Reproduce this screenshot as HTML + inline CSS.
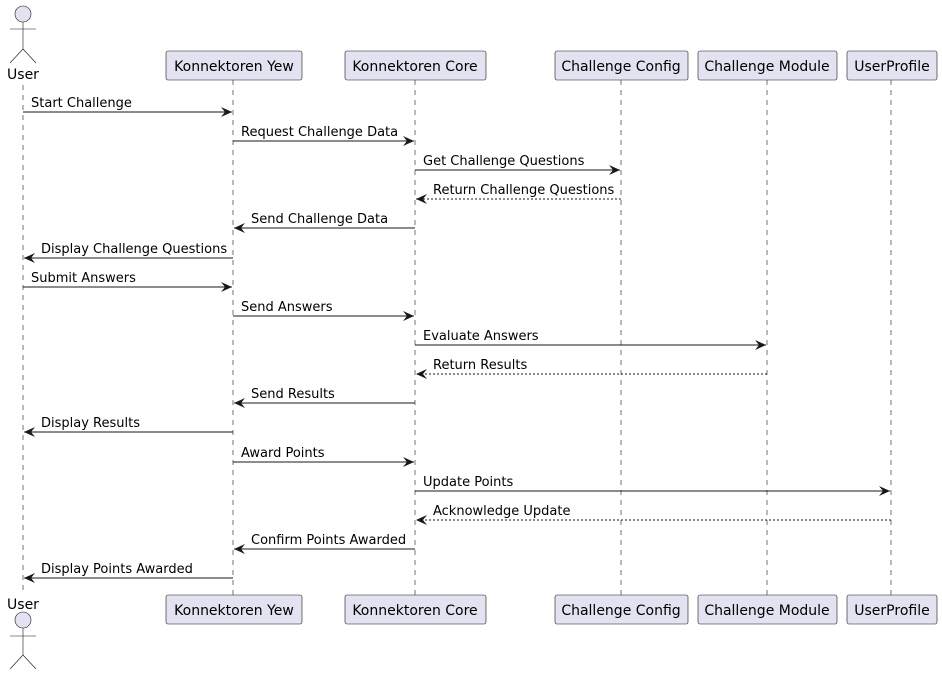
<!DOCTYPE html>
<html><head><meta charset="utf-8"><style>body{margin:0;background:#fff}svg{display:block}</style></head><body>
<svg width="942" height="676" xmlns="http://www.w3.org/2000/svg" font-family="DejaVu Sans, Liberation Sans, sans-serif" font-size="13">
<defs><marker id="a" markerWidth="12" markerHeight="10" refX="11" refY="5" orient="auto" markerUnits="userSpaceOnUse"><path d="M0,0 L11,5 L0,10 L4,5 Z" fill="#181818"/></marker></defs>
<g stroke="#181818" stroke-width="0.6" stroke-dasharray="5,5">
<line x1="23" y1="85" x2="23" y2="595"/><line x1="233" y1="80" x2="233" y2="595"/><line x1="415" y1="80" x2="415" y2="595"/><line x1="621" y1="80" x2="621" y2="595"/><line x1="767" y1="80" x2="767" y2="595"/><line x1="891" y1="80" x2="891" y2="595"/>
</g>
<g fill="#E2E2F0" stroke="#181818" stroke-width="0.6">
<rect x="166" y="51" width="136" height="29" rx="2"/><rect x="345" y="51" width="141" height="29" rx="2"/><rect x="555" y="51" width="133" height="29" rx="2"/><rect x="698" y="51" width="139" height="29" rx="2"/><rect x="847" y="51" width="90" height="29" rx="2"/>
<rect x="166" y="595" width="136" height="29" rx="2"/><rect x="345" y="595" width="141" height="29" rx="2"/><rect x="555" y="595" width="133" height="29" rx="2"/><rect x="698" y="595" width="139" height="29" rx="2"/><rect x="847" y="595" width="90" height="29" rx="2"/>
<circle cx="23" cy="14" r="8"/><circle cx="23" cy="620" r="8"/>
</g>
<g stroke="#181818" stroke-width="0.6" fill="none">
<path d="M23,22 V49 M10,29 H36 M10,63 L23,49 L36,63"/>
<path d="M23,628 V655 M10,636 H36 M10,669 L23,655 L36,669"/>
</g>
<g font-size="14" fill="#000" text-anchor="middle">
<text x="234" y="71">Konnektoren Yew</text><text x="415" y="71">Konnektoren Core</text><text x="621" y="71">Challenge Config</text><text x="767" y="71">Challenge Module</text><text x="892" y="71">UserProfile</text>
<text x="234" y="615">Konnektoren Yew</text><text x="415" y="615">Konnektoren Core</text><text x="621" y="615">Challenge Config</text><text x="767" y="615">Challenge Module</text><text x="892" y="615">UserProfile</text>
<text x="23" y="79">User</text><text x="23" y="609">User</text>
</g>
<g stroke="#181818" stroke-width="1" marker-end="url(#a)">
<line x1="23" y1="112" x2="232" y2="112"/>
<line x1="233" y1="141" x2="414" y2="141"/>
<line x1="415" y1="170" x2="620" y2="170"/>
<line x1="621" y1="199" x2="416" y2="199" stroke-dasharray="2,2"/>
<line x1="415" y1="228" x2="234" y2="228"/>
<line x1="233" y1="258" x2="24" y2="258"/>
<line x1="23" y1="287" x2="232" y2="287"/>
<line x1="233" y1="316" x2="414" y2="316"/>
<line x1="415" y1="345" x2="766" y2="345"/>
<line x1="767" y1="374" x2="416" y2="374" stroke-dasharray="2,2"/>
<line x1="415" y1="403" x2="234" y2="403"/>
<line x1="233" y1="432" x2="24" y2="432"/>
<line x1="233" y1="462" x2="414" y2="462"/>
<line x1="415" y1="491" x2="890" y2="491"/>
<line x1="891" y1="520" x2="416" y2="520" stroke-dasharray="2,2"/>
<line x1="415" y1="549" x2="234" y2="549"/>
<line x1="233" y1="578" x2="24" y2="578"/>
</g>
<g fill="#000">
<text x="31" y="107">Start Challenge</text>
<text x="241" y="136">Request Challenge Data</text>
<text x="423" y="165">Get Challenge Questions</text>
<text x="433" y="194">Return Challenge Questions</text>
<text x="251" y="223">Send Challenge Data</text>
<text x="41" y="253">Display Challenge Questions</text>
<text x="31" y="282">Submit Answers</text>
<text x="241" y="311">Send Answers</text>
<text x="423" y="340">Evaluate Answers</text>
<text x="433" y="369">Return Results</text>
<text x="251" y="398">Send Results</text>
<text x="41" y="427">Display Results</text>
<text x="241" y="457">Award Points</text>
<text x="423" y="486">Update Points</text>
<text x="433" y="515">Acknowledge Update</text>
<text x="251" y="544">Confirm Points Awarded</text>
<text x="41" y="573">Display Points Awarded</text>
</g>
</svg>
</body></html>
